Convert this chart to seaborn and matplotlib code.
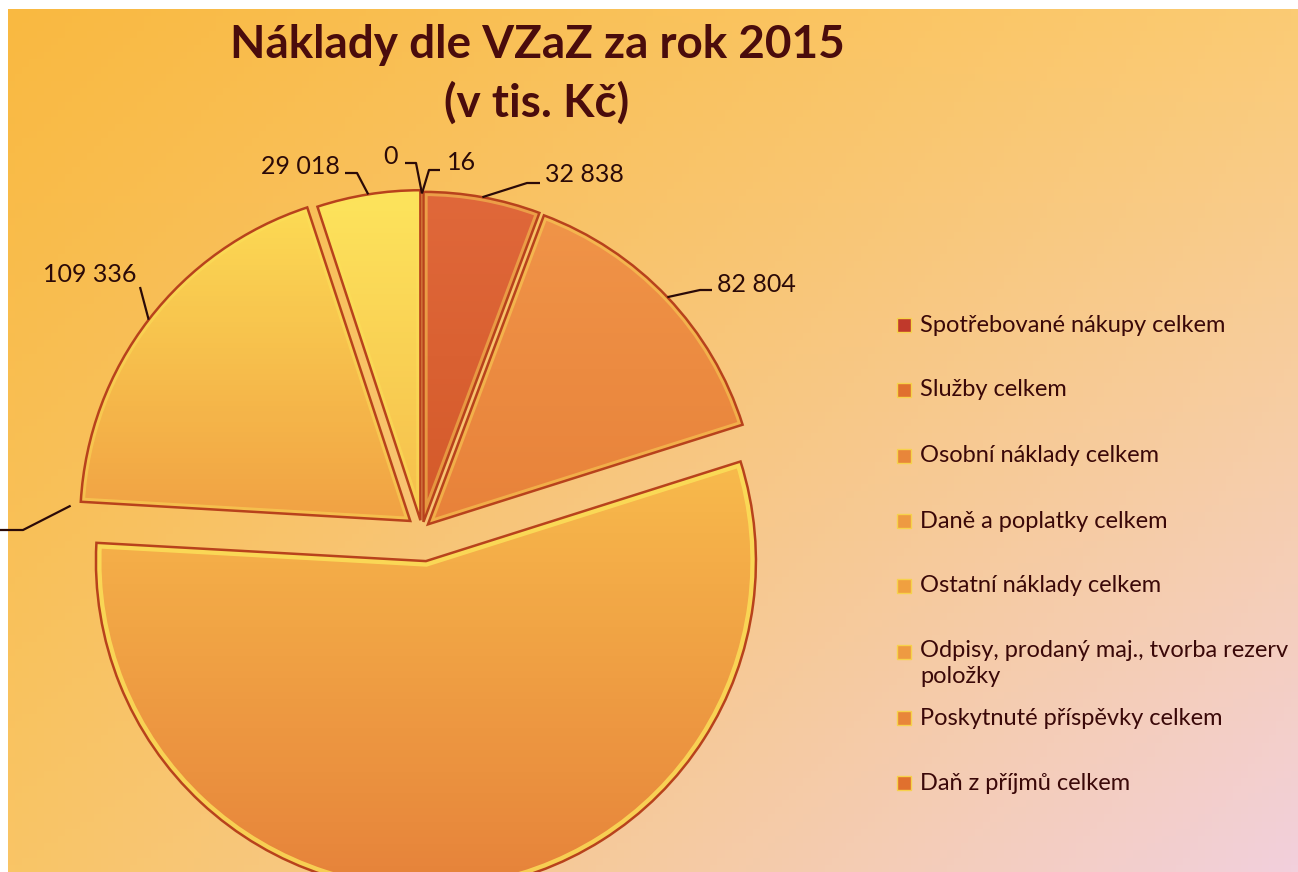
import matplotlib; matplotlib.use('Agg')
import numpy as np
import seaborn as sns
import matplotlib.pyplot as plt
from matplotlib.colors import to_rgb
from matplotlib.patches import Rectangle, Wedge

sns.set_theme(style='white')
plt.rcParams['font.family'] = ['Lato', 'DejaVu Sans']

# data (v tis. Kč)
categories = ['Spotřebované nákupy celkem', 'Služby celkem', 'Osobní náklady celkem',
              'Daně a poplatky celkem', 'Ostatní náklady celkem',
              'Odpisy, prodaný maj., tvorba rezerv\npoložky',
              'Poskytnuté příspěvky celkem', 'Daň z příjmů celkem']
values = [32838, 82804, 320500, 250, 109336, 29018, 0, 16]
explode = [0.025, 0.025, 0.095, 0.03, 0.045, 0.03, 0.02, 0.02]
top_colors = ['#E0683A', '#F09448', '#F8BA4C', '#F6B04A', '#FCDA54', '#FDE45C', '#F6B04A', '#F09448']
bot_colors = ['#D45A2A', '#E8823A', '#E6823A', '#EE9A42', '#F1A244', '#F6BE4C', '#EE9A42', '#E8823A']
legend_colors = ['#C0392B', '#E0702E', '#E8863A', '#EE9A42', '#F0A040', '#EE9A42', '#E8863A', '#E0702E']

W, H = 1298, 872
R = 330
fig = plt.figure(figsize=(W / 100, H / 100), dpi=100)
ax = fig.add_axes([0, 0, 1, 1])
ax.axis('off')

def Y(y):
    return H - y

def grid(tl, tr, bl, br, n=120, m=180):
    tl, tr, bl, br = [np.array(to_rgb(c)) for c in (tl, tr, bl, br)]
    u = np.linspace(0, 1, m)[None, :, None]
    v = np.linspace(0, 1, n)[:, None, None]
    return (1 - v) * ((1 - u) * tl + u * tr) + v * ((1 - u) * bl + u * br)

# background gradient
ax.imshow(grid('#F9B941', '#FBCB74', '#F9C566', '#F2D0DC'), extent=[8, W, Y(H), Y(10)],
          origin='upper', aspect='auto', zorder=0)

# pie
wedges, _ = ax.pie(values, colors=bot_colors, startangle=90, counterclock=False,
                   center=(422, Y(530)), radius=R, explode=[e * R for e in explode],
                   wedgeprops=dict(linewidth=0))
for i, (w, ct, cb) in enumerate(zip(wedges, top_colors, bot_colors)):
    w.set_zorder(2)
    if w.theta2 - w.theta1 < 1.0:
        w.set_visible(False)
        continue
    verts = w.get_path().vertices
    x0, x1 = verts[:, 0].min(), verts[:, 0].max()
    y0, y1 = verts[:, 1].min(), verts[:, 1].max()
    im = ax.imshow(grid(ct, ct, cb, cb, n=60, m=2), extent=[x0, x1, y0, y1],
                   origin='upper', aspect='auto', zorder=2.5)
    im.set_clip_path(w)
    # bevel highlight + dark rim
    hl = Wedge(w.center, w.r, w.theta1, w.theta2, fill=False, edgecolor='#FCE25A',
               linewidth=8 if i == 2 else 6, alpha=0.8 if i == 2 else 0.45, zorder=2.8)
    ax.add_patch(hl)
    hl.set_clip_path(w)
    ax.add_patch(Wedge(w.center, w.r, w.theta1, w.theta2, fill=False,
                       edgecolor='#B8421C', linewidth=1.8, zorder=3))

# data labels with leader lines
label_layout = {
    0: ((545, 175), 'left', [(540, 183), (527, 183)]),
    1: ((717, 285), 'left', [(712, 290), (700, 290)]),
    4: ((90, 275), 'center', [(140, 287)]),
    5: ((340, 166), 'right', [(345, 173), (357, 173)]),
    6: ((398, 156), 'right', [(405, 163), (416, 163)]),
    7: ((447, 163), 'left', [(440, 170), (429, 170)]),
}
leader_only = {3: [(0, 530), (23, 530)]}

def anchor(w):
    mid = np.deg2rad((w.theta1 + w.theta2) / 2)
    return w.center[0] + w.r * np.cos(mid), w.center[1] + w.r * np.sin(mid)

for i, ((tx, ty), ha, elbow) in label_layout.items():
    px, py = anchor(wedges[i])
    ax.plot([p[0] for p in elbow] + [px], [Y(p[1]) for p in elbow] + [py],
            color='#2B0A08', lw=1.6, zorder=4, solid_capstyle='butt')
    ax.text(tx, Y(ty), f'{values[i]:,}'.replace(',', ' '), ha=ha, va='center',
            fontsize=18, color='#2B0A08', zorder=5)
for i, elbow in leader_only.items():
    px, py = anchor(wedges[i])
    ax.plot([p[0] for p in elbow] + [px - 12], [Y(p[1]) for p in elbow] + [py + 5],
            color='#2B0A08', lw=1.6, zorder=4, solid_capstyle='butt')

# legend
leg_y = [325, 390, 456, 521, 586, 652, 718, 783]
for i, (name, yy) in enumerate(zip(categories, leg_y)):
    ax.add_patch(Rectangle((897, Y(yy) - 7), 14, 14, facecolor=legend_colors[i],
                           edgecolor='#F7D24C', linewidth=1.0, zorder=4))
    if '\n' in name:
        ax.text(920, Y(yy) + 12, name, ha='left', va='top', fontsize=17,
                color='#3A0808', linespacing=1.3, zorder=5)
    else:
        ax.text(920, Y(yy), name, ha='left', va='center', fontsize=17,
                color='#3A0808', zorder=5)

# title
ax.text(537, Y(45), 'Náklady dle VZaZ za rok 2015', ha='center', va='center',
        fontsize=33, fontweight='bold', color='#4A0C0C', zorder=5)
ax.text(537, Y(103), '(v tis. Kč)', ha='center', va='center',
        fontsize=33, fontweight='bold', color='#4A0C0C', zorder=5)

ax.set_xlim(0, W)
ax.set_ylim(0, H)
ax.set_aspect('auto')
fig.savefig('out.png', dpi=100, facecolor='white')
